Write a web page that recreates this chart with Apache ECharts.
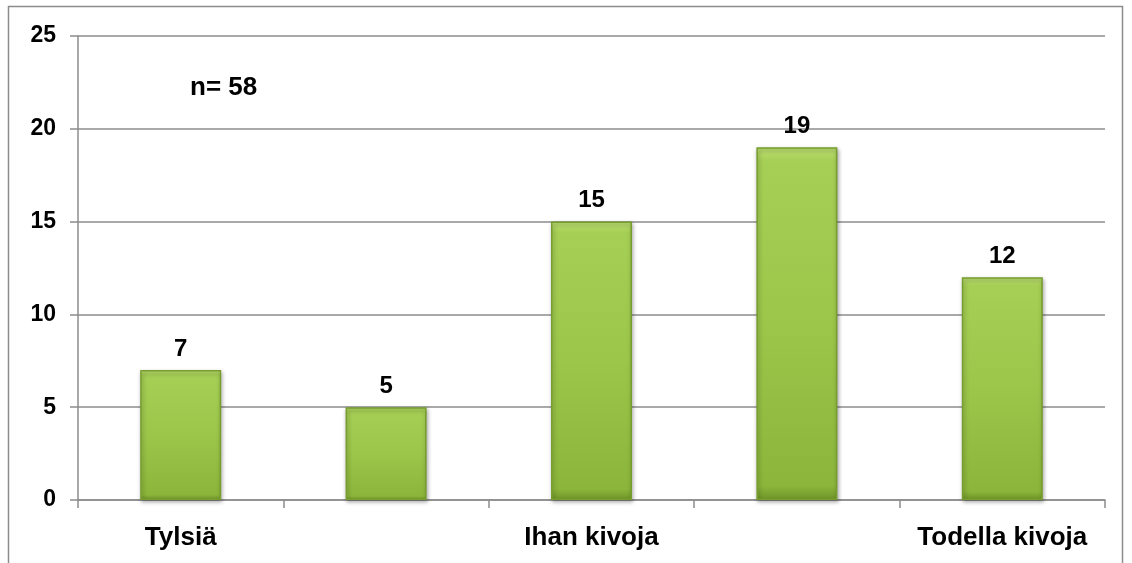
<!DOCTYPE html>
<html><head><meta charset="utf-8">
<script src="https://cdn.jsdelivr.net/npm/echarts@6/dist/echarts.min.js"></script>
<style>html,body{margin:0;padding:0;background:#fff}#c{width:1132px;height:563px}</style>
</head><body><div id="c"></div>
<script>
var categories = ['Tylsiä', '', 'Ihan kivoja', '', 'Todella kivoja'];
var values = [7, 5, 15, 19, 12];
var yTicks = [0, 5, 10, 15, 20, 25];
var noteText = 'n= 58';

var chart = echarts.init(document.getElementById('c'));
var font = 'Liberation Sans, Arial, sans-serif';
chart.setOption({
  animation: false,
  graphic: [
    {type: 'rect', shape: {x: 8.5, y: 6.5, width: 1114, height: 580}, style: {fill: 'none', stroke: '#8c8c8c', lineWidth: 1.5}, silent: true},
    {type: 'text', left: 190, top: 75, style: {text: noteText, font: 'bold 26px ' + font, fill: '#000'}}
  ],
  grid: {left: 78, right: 27, top: 36, bottom: 63, containLabel: false},
  xAxis: {
    type: 'category', data: categories,
    axisLine: {lineStyle: {color: '#8c8c8c', width: 1.5}},
    axisTick: {show: true, length: 8, alignWithLabel: false, lineStyle: {color: '#8c8c8c', width: 1.5}},
    axisLabel: {interval: 0, color: '#000', fontWeight: 'bold', fontSize: 26, fontFamily: font, margin: 25}
  },
  yAxis: {
    type: 'value', min: yTicks[0], max: yTicks[yTicks.length - 1], interval: 5,
    axisLine: {show: true, lineStyle: {color: '#8c8c8c', width: 1.5}},
    axisTick: {show: true, length: 8, lineStyle: {color: '#8c8c8c', width: 1.5}},
    splitLine: {lineStyle: {color: '#8c8c8c', width: 1.5}},
    axisLabel: {color: '#000', fontWeight: 'bold', fontSize: 23, fontFamily: font, margin: 22}
  },
  series: [{
    type: 'bar', data: values, barWidth: 81,
    itemStyle: {
      color: {type: 'linear', x: 0, y: 0, x2: 0, y2: 1, colorStops: [
        {offset: 0, color: '#bddf72'}, {offset: 0.04, color: '#a6cf55'},
        {offset: 0.5, color: '#9cc64a'}, {offset: 0.96, color: '#8cb63b'}, {offset: 1, color: '#6f9428'}]},
      borderColor: '#779d2e', borderWidth: 1.5,
      shadowColor: 'rgba(0,0,0,0.35)', shadowBlur: 4, shadowOffsetX: 1, shadowOffsetY: 2
    },
    label: {show: true, position: 'top', distance: 9, color: '#000', fontWeight: 'bold', fontSize: 24, fontFamily: font}
  }]
});
</script></body></html>
